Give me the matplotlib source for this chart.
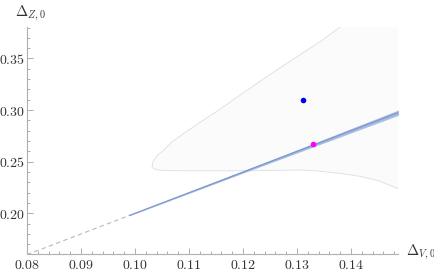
import numpy as np
import matplotlib
matplotlib.use('Agg')
import matplotlib.pyplot as plt
from matplotlib.ticker import MultipleLocator, FuncFormatter

plt.rcParams['mathtext.fontset'] = 'cm'
plt.rcParams['font.family'] = 'serif'
plt.rcParams['font.serif'] = ['DejaVu Serif']

# dashed extrapolation and blue band (Delta_V, Delta_Z)
dash_x = [0.0800, 0.0990]
dash_y = [0.1600, 0.1980]
band_x = [0.0990, 0.1240, 0.1490]
band_y = [0.1980, 0.2480, 0.2980]
band_hw = [0.0003, 0.0012, 0.0026]

# light contour, upper branch from the tip up to the top
up_x = [0.10315, 0.1033, 0.1037, 0.1043, 0.1052, 0.1068, 0.1089, 0.1120,
        0.1152, 0.1213, 0.1260, 0.1306, 0.1345, 0.1380]
up_y = [0.2452, 0.2495, 0.2529, 0.2568, 0.2606, 0.2690, 0.2769, 0.2880,
        0.2990, 0.3212, 0.3380, 0.3538, 0.3670, 0.3808]
# lower branch from the tip to the right edge
lo_x = [0.10315, 0.1034, 0.1040, 0.1050, 0.1065, 0.1090, 0.1120, 0.1213,
        0.1270, 0.1306, 0.1335, 0.1361, 0.1390, 0.1417, 0.1450, 0.1487]
lo_y = [0.2452, 0.2435, 0.2423, 0.2417, 0.2414, 0.2413, 0.2413, 0.2413,
        0.2417, 0.2420, 0.2412, 0.2398, 0.2380, 0.2358, 0.2318, 0.2240]

pt_blue = (0.1311, 0.3096)
pt_mag = (0.1330, 0.2673)

fig = plt.figure(figsize=(4.35, 2.72), dpi=100)
ax = fig.add_axes([27/435, 18/272, (398-27)/435, (254-27)/272])

cx = up_x[::-1] + lo_x[1:]
cy = up_y[::-1] + lo_y[1:]
# faint shading of the allowed region
fx = cx + [lo_x[-1], lo_x[-1]]
fy = cy + [up_y[-1], up_y[-1]]
ax.fill(fx, fy, color='#fbfbfc', lw=0, zorder=0)
ax.plot(cx, cy, color='#dce2ee', lw=0.7, zorder=1, solid_joinstyle='round')

ax.plot(dash_x, dash_y, color='#b8b8b8', lw=0.8, dashes=(4, 3), zorder=2)
bx = np.array(band_x)
by = np.array(band_y)
hw = np.array(band_hw)
ax.fill_between(bx, by - hw, by + hw, color='#a9bde2', lw=0, zorder=3)
ax.plot(bx, by, color='#7d97cc', lw=0.9, zorder=4)

ax.plot(*pt_blue, 'o', color='#0000e6', ms=4, mec='none', zorder=5)
ax.plot(*pt_mag, 'o', color='#ff00ff', ms=4, mec='none', zorder=5)

ax.set_xlim(0.08, 0.1487)
ax.set_ylim(0.1606, 0.3805)

for s in ['top', 'right']:
    ax.spines[s].set_visible(False)
for s in ['left', 'bottom']:
    ax.spines[s].set_color('#b0b0b0')
    ax.spines[s].set_linewidth(0.8)

ax.xaxis.set_major_locator(MultipleLocator(0.01))
ax.xaxis.set_minor_locator(MultipleLocator(0.002))
ax.yaxis.set_major_locator(MultipleLocator(0.05))
ax.yaxis.set_minor_locator(MultipleLocator(0.01))
ax.xaxis.set_major_formatter(FuncFormatter(lambda v, p: r'$%.2f$' % v))
ax.yaxis.set_major_formatter(FuncFormatter(lambda v, p: r'$%.2f$' % v))
ax.tick_params(which='both', direction='in', color='#a0a0a0', width=0.6,
               labelsize=10, labelcolor='#333333')
ax.tick_params(axis='y', pad=1.5)
ax.tick_params(axis='x', pad=3)
ax.tick_params(which='major', length=4)
ax.tick_params(which='minor', length=2)

fig.text(406/435, 1 - 252/272, r'$\Delta_{V,0}$', fontsize=10.5, va='center',
         ha='left', color='#333333')
fig.text(15/435, 1 - 13/272, r'$\Delta_{Z,0}$', fontsize=10.5, va='center',
         ha='left', color='#333333')

fig.savefig('out.png', dpi=100)
